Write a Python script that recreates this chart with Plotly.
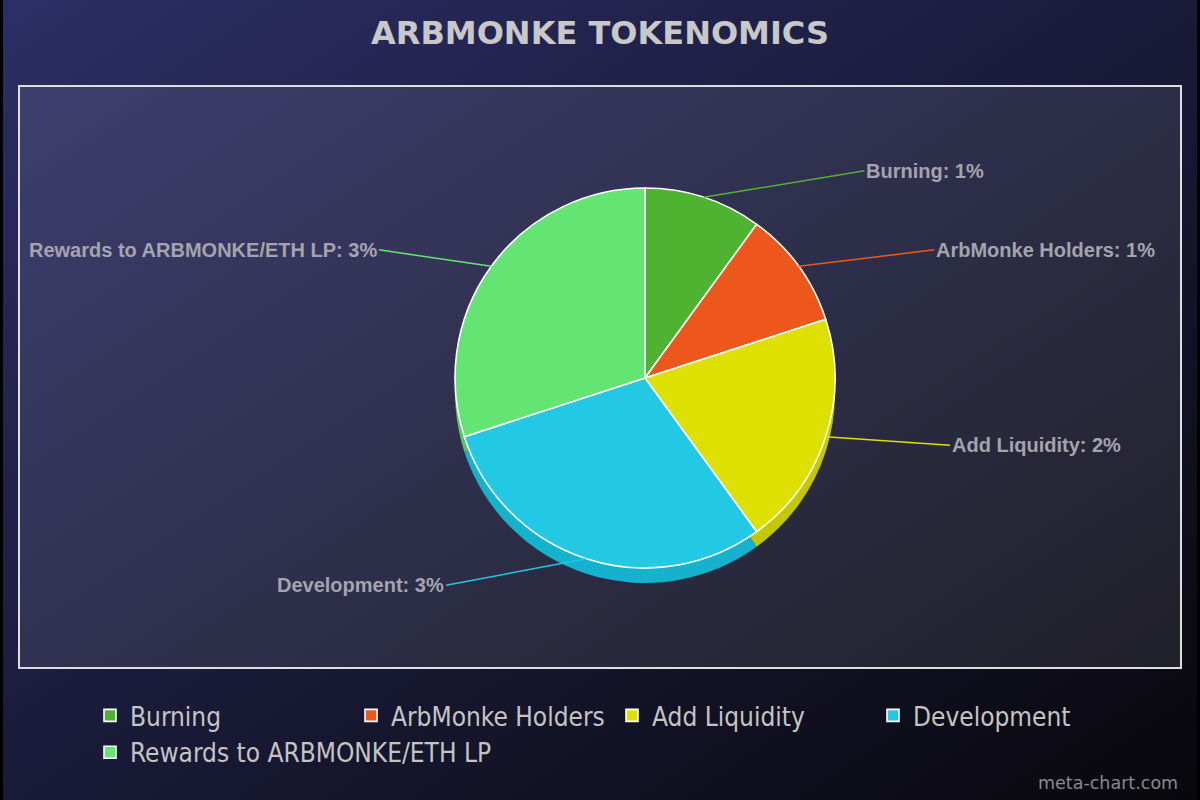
import base64
import math
import plotly.graph_objects as go

# ---- data ----
labels = ["Burning", "ArbMonke Holders", "Add Liquidity", "Development", "Rewards to ARBMONKE/ETH LP"]
values = [1, 1, 2, 3, 3]
top_colors = ["#4fb332", "#ee571c", "#dde000", "#22c8e4", "#64e472"]
side_colors = ["#3f9a26", "#c94410", "#c4c800", "#14b2cc", "#4fc85c"]
title_text = "ARBMONKE TOKENOMICS"
watermark = "meta-chart.com"

W, H = 1200, 800
CX, CY, R = 645, 378, 190   # pie centre / radius in pixels
DEPTH = 15

def px_to_paper(x, y):
    return x / W, 1 - y / H

dom_x = [(CX - R) / W, (CX + R) / W]
dom_y = [1 - (CY + R) / H, 1 - (CY - R) / H]
dom_y_back = [dom_y[0] - DEPTH / H, dom_y[1] - DEPTH / H]

fig = go.Figure()

# side (depth) layer
fig.add_trace(go.Pie(
    labels=labels, values=values, sort=False, direction="clockwise", rotation=0,
    marker=dict(colors=side_colors, line=dict(width=0)),
    textinfo="none", hoverinfo="skip", showlegend=False,
    domain=dict(x=dom_x, y=dom_y_back),
))
# top face
fig.add_trace(go.Pie(
    labels=labels, values=values, sort=False, direction="clockwise", rotation=0,
    marker=dict(colors=top_colors, line=dict(color="#ffffff", width=1.6)),
    textinfo="none", hovertemplate="%{label}: %{value}%<extra></extra>",
    domain=dict(x=dom_x, y=dom_y),
))

# outside labels with leader lines, placed from each slice's mid-angle
total = sum(values)
cum = 0
annotations = []
for lab, val, col in zip(labels, values, top_colors):
    mid = (cum + val / 2) / total * 2 * math.pi
    cum += val
    s, c = math.sin(mid), math.cos(mid)
    ex, ey = CX + R * s, CY - R * c
    xp, yp = px_to_paper(ex, ey)
    right = s >= 0
    dx = (120 + 45 * c * c) if right else -(95 + 50 * c * c)
    annotations.append(dict(
        x=xp, y=yp, xref="paper", yref="paper",
        text=f"{lab}: {val}%",
        showarrow=True, arrowhead=0, arrowwidth=1.5, arrowcolor=col,
        ax=dx, ay=-c * 28,
        xanchor="left" if right else "right", yanchor="middle",
        font=dict(family="Liberation Sans, Arial, sans-serif", size=20, color="#a4a4ae", weight="bold"),
    ))

annotations.append(dict(
    x=1180 / W, y=1 - 783 / H, xref="paper", yref="paper", showarrow=False,
    text=watermark, xanchor="right", yanchor="middle",
    font=dict(family="DejaVu Sans, sans-serif", size=17.5, color="#8a8a8a"),
))

# background gradient
svg = (
    f'<svg xmlns="http://www.w3.org/2000/svg" width="{W}" height="{H}">'
    '<defs><linearGradient id="g" x1="0" y1="0" x2="1" y2="1">'
    '<stop offset="0" stop-color="#2c2e66"/><stop offset="1" stop-color="#08070c"/>'
    '</linearGradient></defs>'
    f'<rect width="{W}" height="{H}" fill="url(#g)"/>'
    '<rect x="0" y="0" width="3" height="800" fill="#000"/>'
    '<rect x="1197" y="0" width="3" height="800" fill="#000"/>'
    '</svg>'
)
src = "data:image/svg+xml;base64," + base64.b64encode(svg.encode()).decode()

fx0, fy0 = px_to_paper(19, 668)
fx1, fy1 = px_to_paper(1181, 86)

fig.update_layout(
    width=W, height=H,
    margin=dict(l=0, r=0, t=0, b=0),
    paper_bgcolor="#1a1a38",
    plot_bgcolor="rgba(0,0,0,0)",
    images=[dict(source=src, xref="paper", yref="paper", x=0, y=1, sizex=1, sizey=1,
                 xanchor="left", yanchor="top", sizing="stretch", layer="below")],
    shapes=[dict(type="rect", xref="paper", yref="paper", x0=fx0, y0=fy0, x1=fx1, y1=fy1,
                 fillcolor="rgba(255,255,255,0.09)", line=dict(color="#dedede", width=2),
                 layer="below")],
    title=dict(text=f"<b>{title_text}</b>", x=0.5, xanchor="center", y=1 - 33 / H, yanchor="middle",
               font=dict(family="DejaVu Sans, Verdana, sans-serif", size=32, color="#c8c8c8")),
    legend=dict(orientation="h", x=0.51, xanchor="center", y=1 - 692 / H, yanchor="top",
                entrywidth=216, entrywidthmode="pixels", tracegroupgap=0,
                font=dict(family="DejaVu Sans Condensed, Liberation Sans Narrow, sans-serif", size=26, color="#c4c4c4"),
                bgcolor="rgba(0,0,0,0)", itemclick=False, itemdoubleclick=False),
    annotations=annotations,
)

fig.write_html("out.html", config={"displayModeBar": False},
               post_script="document.body.style.margin='0';document.body.style.overflow='hidden';")
